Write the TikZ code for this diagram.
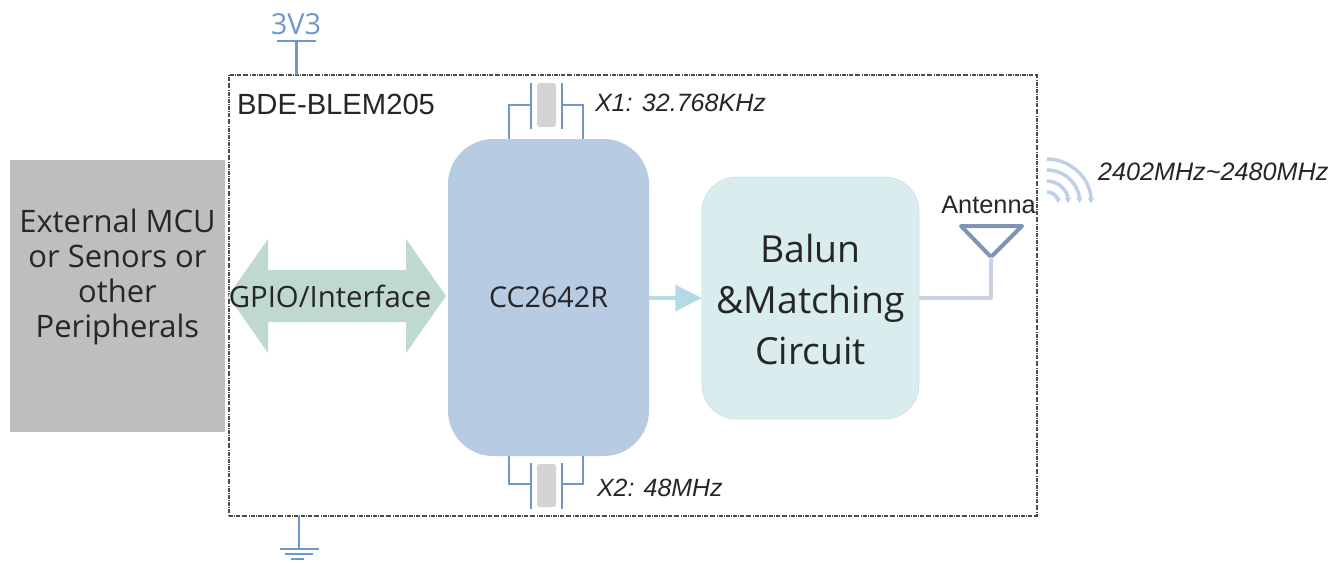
\documentclass[tikz,border=0pt]{standalone}
\usepackage{fontspec}
\setmainfont{Open Sans}
\newfontfamily\lib{Liberation Sans}
\usetikzlibrary{arrows.meta,calc}
\definecolor{wirecol}{HTML}{6F97CC}
\definecolor{chipcol}{HTML}{B7CCE3}
\definecolor{baluncol}{HTML}{DAEDEE}
\definecolor{baluned}{HTML}{C8E0E2}
\definecolor{graycol}{HTML}{BEBEBE}
\definecolor{arrowcol}{HTML}{BFD8D0}
\definecolor{linkcol}{HTML}{B5DAE6}
\definecolor{xtalcol}{HTML}{D4D4D4}
\definecolor{feedcol}{HTML}{C9D3E4}
\definecolor{antcol}{HTML}{7F94B5}
\definecolor{wavecol}{HTML}{BDD0E5}
\definecolor{txtcol}{HTML}{262626}
\tikzset{
  boxed/.style={draw=none,inner sep=0pt,outer sep=0pt,minimum width=#1},
  wire/.style={draw=wirecol,line width=1.1pt},
  powerwire/.style={draw=wirecol,line width=1.7pt},
  lbl/.style={inner sep=0pt,outer sep=0pt,text=txtcol,font=\lib},
  sanslbl/.style={inner sep=0pt,outer sep=0pt,text=txtcol},
  wave/.style={draw=wavecol,line width=2.6pt,-{Stealth[length=4pt,width=5pt]}},
}
\begin{document}
\begin{tikzpicture}[x=0.75pt,y=-0.75pt]
\useasboundingbox[fill=white] (0,0) rectangle (1342,562);
% module frame
\node[boxed=606pt,minimum height=330.75pt,draw=black!70,densely dashdotted,line width=0.8pt] (module) at (633,295.5) {};
\node[lbl,anchor=west,font=\lib\fontsize{21.9pt}{24pt}\selectfont] (modname) at (237,104) {BDE-BLEM205};
% external block
\node[boxed=161.25pt,minimum height=204pt,fill=graycol] (ext) at (117.5,296) {};
\node[sanslbl,align=center,font=\fontsize{23.2pt}{26.2pt}\selectfont] (exttext) at (117.5,277) {External MCU\\or Senors or\\other\\Peripherals};
% double arrow
\path[fill=arrowcol] (228,296) -- (268,239) -- (268,270) -- (406,270) -- (406,239) -- (446,296) -- (406,353) -- (406,322) -- (268,322) -- (268,353) -- cycle;
\node[sanslbl,font=\fontsize{22pt}{24pt}\selectfont] (gpio) at (330,296) {GPIO/Interface};
% chip
\node[boxed=150.75pt,minimum height=237.75pt,fill=chipcol,rounded corners=34pt,sanslbl,font=\fontsize{21.5pt}{24pt}\selectfont] (chip) at (548.5,297.5) {CC2642R};
% balun
\node[boxed=162.75pt,minimum height=181.5pt,draw=baluned,line width=0.5pt,fill=baluncol,rounded corners=26pt] (balun) at (810.5,298) {};
\node[sanslbl,align=center,font=\fontsize{28pt}{38pt}\selectfont] (baluntext) at (810.5,299.5) {Balun\\\&Matching\\Circuit};
\draw[linkcol,line width=3.6pt,-{Triangle[length=20pt,width=19pt]}] (chip.east |- 0,298) -- (balun.west |- 0,298);
% crystal X1
\fill[xtalcol,rounded corners=2pt] (537,83) rectangle (556,127);
\coordinate (x1l) at (531,105); \coordinate (x1r) at (562,105);
\draw[wire] (531,83) -- (531,129); \draw[wire] (562,83) -- (562,129);
\draw[wire] (x1l) -- (509,105) -- (509,139);
\draw[wire] (x1r) -- (583,105) -- (583,139);
\node[lbl,anchor=west,font=\lib\itshape\fontsize{18.8pt}{20pt}\selectfont] (x1) at (595,103) {X1: 32.768KHz};
% crystal X2
\fill[xtalcol,rounded corners=2pt] (537,464) rectangle (556,507);
\coordinate (x2l) at (531,484); \coordinate (x2r) at (562,484);
\draw[wire] (531,463) -- (531,509); \draw[wire] (562,463) -- (562,509);
\draw[wire] (x2l) -- (509,484) -- (509,456);
\draw[wire] (x2r) -- (583,484) -- (583,456);
\node[lbl,anchor=west,font=\lib\itshape\fontsize{18.7pt}{20pt}\selectfont] (x2) at (597,488) {X2: 48MHz};
% power
\node[inner sep=0pt,outer sep=0pt,text=wirecol,font=\fontsize{21.7pt}{24pt}\selectfont] (vcc) at (296,24) {3V3};
\coordinate (vccbar) at (296.5,41);
\draw[powerwire] (277,41) -- (316,41);
\draw[powerwire] (vccbar) -- (296.5,75);
% ground
\coordinate (gndbar) at (299,549);
\draw[powerwire] (299,516) -- (gndbar);
\draw[powerwire] (280,549) -- (319,549);
\draw[powerwire] (285,554) -- (313,554);
\draw[powerwire] (291,559) -- (304,559);
% antenna
\coordinate (anttip) at (991,257);
\draw[antcol,line width=3pt,line join=round,fill=white] (961,226) -- (1022,226) -- (anttip) -- cycle;
\draw[feedcol,line width=2.4pt,line join=round] (anttip) -- (991,298) -- (balun.east |- 0,298);
\node[lbl,font=\lib\fontsize{19pt}{20pt}\selectfont] (ant) at (988.5,205) {Antenna};
% waves
\draw[wave] (1047,159) .. controls (1071,159) and (1091,179) .. (1091,203);
\draw[wave] (1047,170) .. controls (1065,170) and (1079.5,185) .. (1079.5,203);
\draw[wave] (1047,181) .. controls (1059,181) and (1068,191) .. (1068,203);
\draw[wave] (1047,192) .. controls (1053,192) and (1058,197) .. (1058,203);
\node[lbl,anchor=west,font=\lib\itshape\fontsize{18.9pt}{20pt}\selectfont] (freq) at (1098,172) {2402MHz\textasciitilde2480MHz};
\end{tikzpicture}
\end{document}
